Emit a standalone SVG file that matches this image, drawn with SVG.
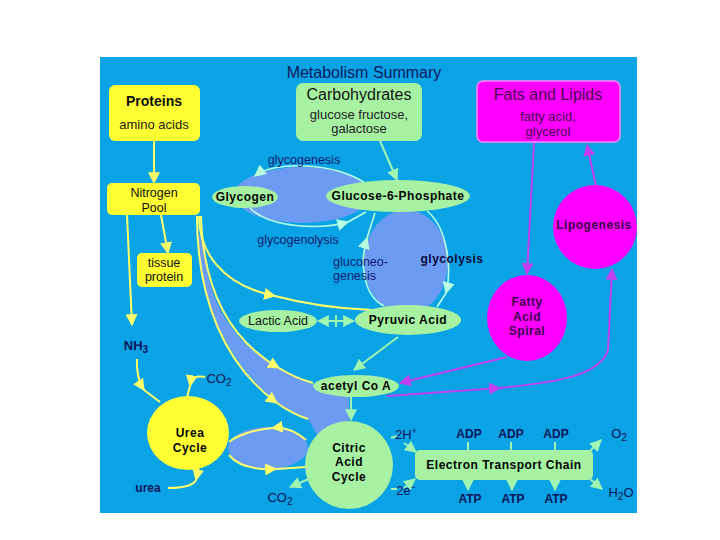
<svg xmlns="http://www.w3.org/2000/svg" width="720" height="540" viewBox="0 0 720 540">
<style>
text{font-family:"Liberation Sans",Arial,sans-serif;text-anchor:middle}
.t{fill:#0b1a5c;font-size:16px}
.h{font-size:16px;fill:#151515}
.hp{font-size:16px;fill:#4a0a50}
.s{font-size:13px;fill:#222}
.sp{font-size:13px;fill:#4a0a50}
.b{font-weight:bold;font-size:12px;letter-spacing:0.5px;fill:#050505}
.bp{font-weight:bold;font-size:12px;letter-spacing:0.5px;fill:#3a0648}
.r{font-size:12.5px;fill:#111a70}
.k{font-size:12.5px;fill:#111}
.n{font-weight:bold;font-size:12px;fill:#0b1458}
.yl{fill:#ffff33}
.gn{fill:#a6f2a2}
.mg{fill:#ff00ff}
.lav{fill:#6c9cf2}
.cy{fill:none;stroke:#ffff6a;stroke-width:2}
.cg{fill:none;stroke:#a0f5b0;stroke-width:2}
.cm{fill:none;stroke:#c040f0;stroke-width:2}
.co{fill:none;stroke:#b8ffe0;stroke-width:1.6}
</style>
<defs>
<marker id="ay" viewBox="0 0 10 10" refX="9" refY="5" markerWidth="12" markerHeight="12" markerUnits="userSpaceOnUse" orient="auto"><path d="M0,0L10,5L0,10z" fill="#ffff6a"/></marker>
<marker id="ag" viewBox="0 0 10 10" refX="9" refY="5" markerWidth="12" markerHeight="12" markerUnits="userSpaceOnUse" orient="auto-start-reverse"><path d="M0,0L10,5L0,10z" fill="#a0f5b0"/></marker>
<marker id="ac" viewBox="0 0 10 10" refX="9" refY="5" markerWidth="12" markerHeight="12" markerUnits="userSpaceOnUse" orient="auto"><path d="M0,0L10,5L0,10z" fill="#b8ffe0"/></marker>
<marker id="am" viewBox="0 0 10 10" refX="9" refY="5" markerWidth="12" markerHeight="12" markerUnits="userSpaceOnUse" orient="auto"><path d="M0,0L10,5L0,10z" fill="#c040f0"/></marker>
</defs>
<rect x="0" y="0" width="720" height="540" fill="#ffffff"/>
<rect x="100" y="57" width="537" height="456" fill="#0aa3e6"/>
<text x="364" y="78" class="t">Metabolism Summary</text>

<!-- cycle areas -->
<ellipse cx="302" cy="195" rx="68" ry="28" class="lav"/>
<ellipse cx="406" cy="262" rx="42" ry="52" class="lav"/>
<ellipse cx="268" cy="448" rx="40" ry="21" class="lav"/>
<path d="M198,235 C199,300 228,362 277,403 Q292,414 308,419 L320,440 L349,440 L349,396 L312,384 Q295,378 279,368 C230,340 205,300 203,235 Z" class="lav"/>

<g id="connectors">
<path d="M154,141 L154,183" class="cy" marker-end="url(#ay)"/>
<path d="M127,215 L132,325" class="cy" marker-end="url(#ay)"/>
<path d="M161,215 L168,253" class="cy" marker-end="url(#ay)"/>
<path d="M199,216 C199,250 220,285 275,296" class="cy" marker-end="url(#ay)"/>
<path d="M275,296 Q320,308 372,310" class="cy"/>
<path d="M201,216 C203,290 230,340 279,368" class="cy" marker-end="url(#ay)"/>
<path d="M279,368 Q295,378 313,383" class="cy"/>
<path d="M197,216 C197,300 225,365 277,403" class="cy" marker-end="url(#ay)"/>
<path d="M277,403 Q292,414 308,419" class="cy"/>
<path d="M137,359 Q136,378 144,390" class="cy" marker-end="url(#ay)"/>
<path d="M144,390 L160,402" class="cy"/>
<path d="M205,377 Q192,374 190,386" class="cy" marker-end="url(#ay)"/>
<path d="M190,386 L187,397" class="cy"/>
<path d="M199,466 L196,480" class="cy" marker-end="url(#ay)"/>
<path d="M196,480 Q192,488 168,488" class="cy"/>
<path d="M306,440 Q290,426 272,428" class="cy" marker-end="url(#ay)"/>
<path d="M272,428 C252,430 236,436 229,442" class="cy"/>
<path d="M229,455 C238,466 255,470 276,469" class="cy" marker-end="url(#ay)"/>
<path d="M276,469 L306,467" class="cy"/>

<path d="M380,141 L397,180" class="cg" marker-end="url(#ag)"/>
<path d="M365,183 C335,163 275,160 255,176" class="co" marker-end="url(#ac)"/>
<path d="M250,208 C270,228 320,230 348,222" class="co" marker-end="url(#ac)"/>
<path d="M348,222 L366,212" class="co"/>
<path d="M384,306 C362,295 360,260 367,238" class="co" marker-end="url(#ac)"/>
<path d="M367,238 L375,213" class="co"/>
<path d="M427,211 C448,228 452,270 446,293" class="co" marker-end="url(#ac)"/>
<path d="M446,293 L437,307" class="co"/>
<path d="M318,321 L354,321" class="cg" marker-start="url(#ag)" marker-end="url(#ag)"/>
<path d="M336,315 L336,327" class="cg"/>
<path d="M398,337 L354,370" class="cg" marker-end="url(#ag)"/>
<path d="M351,397 L351,420" class="cg" marker-end="url(#ag)"/>
<path d="M391,438 L397,436" class="cg"/>
<path d="M404,443 L416,452" class="cg" marker-end="url(#ag)"/>
<path d="M391,489 L397,489" class="cg"/>
<path d="M404,488 L415,479" class="cg" marker-end="url(#ag)"/>
<path d="M311,478 L290,487" class="cg" marker-end="url(#ag)"/>
<path d="M468,442 L468,450 M511,442 L511,450 M555,442 L555,450" class="cg"/>
<path d="M468,480 L468,490" class="cg" marker-end="url(#ag)"/>
<path d="M512,480 L512,490" class="cg" marker-end="url(#ag)"/>
<path d="M555,480 L555,490" class="cg" marker-end="url(#ag)"/>
<path d="M590,451 L601,440" class="cg" marker-end="url(#ag)"/>
<path d="M590,479 L602,489" class="cg" marker-end="url(#ag)"/>

<path d="M534,142 L527,274" class="cm" marker-end="url(#am)"/>
<path d="M596,186 L587,145" class="cm" marker-end="url(#am)"/>
<path d="M507,357 L400,383" class="cm" marker-end="url(#am)"/>
<path d="M387,396 Q440,392 500,388" class="cm" marker-end="url(#am)"/>
<path d="M500,388 C560,382 600,375 608,350 L612,269" class="cm" marker-end="url(#am)"/>
</g>

<g id="proteins">
<rect x="109" y="85" width="91" height="56" rx="6" class="yl"/>
<text x="154" y="106" style="font-weight:bold;font-size:14px;fill:#111">Proteins</text>
<text x="154" y="129" class="s">amino acids</text>
</g>
<g id="carbohydrates">
<rect x="296" y="83" width="126" height="58" rx="7" class="gn"/>
<text x="359" y="100" class="h">Carbohydrates</text>
<text x="359" y="119" class="s">glucose fructose,</text>
<text x="359" y="133" class="s">galactose</text>
</g>
<g id="fats">
<rect x="477" y="81" width="143" height="61" rx="6" class="mg" stroke="#ff88ff" stroke-width="1.5"/>
<text x="548" y="100" class="hp">Fats and Lipids</text>
<text x="548" y="121" class="sp">fatty acid,</text>
<text x="548" y="136" class="sp">glycerol</text>
</g>
<g id="nitrogen-pool">
<rect x="107" y="183" width="93" height="32" rx="5" class="yl"/>
<text x="154" y="197" class="k">Nitrogen</text>
<text x="154" y="212" class="k">Pool</text>
</g>
<g id="tissue-protein">
<rect x="137" y="253" width="55" height="34" rx="5" class="yl"/>
<text x="164" y="267" class="k">tissue</text>
<text x="164" y="281" class="k">protein</text>
</g>
<g id="glycogen">
<ellipse cx="245" cy="197" rx="33" ry="11" class="gn"/>
<text x="245" y="201" class="b">Glycogen</text>
</g>
<g id="g6p">
<ellipse cx="398" cy="196" rx="72" ry="16" class="gn"/>
<text x="398" y="200" class="b">Glucose-6-Phosphate</text>
</g>
<g id="labels-carb">
<text x="304" y="164" class="r">glycogenesis</text>
<text x="298" y="244" class="r">glycogenolysis</text>
<text x="333" y="266" class="r" style="text-anchor:start">gluconeo-</text>
<text x="333" y="280" class="r" style="text-anchor:start">genesis</text>
<text x="452" y="263" class="b" style="fill:#0a0a3a">glycolysis</text>
</g>
<g id="lactic-acid">
<ellipse cx="278" cy="321" rx="39" ry="11" class="gn"/>
<text x="278" y="325" class="k">Lactic Acid</text>
</g>
<g id="pyruvic-acid">
<ellipse cx="408" cy="320" rx="53" ry="15" class="gn"/>
<text x="408" y="324" class="b">Pyruvic Acid</text>
</g>
<g id="acetyl-coa">
<ellipse cx="356" cy="386" rx="43" ry="11" class="gn"/>
<text x="356" y="390" class="b">acetyl Co A</text>
</g>
<g id="citric-acid-cycle">
<circle cx="349" cy="465" r="44" class="gn"/>
<text x="349" y="452" class="b">Citric</text>
<text x="349" y="466" class="b">Acid</text>
<text x="349" y="481" class="b">Cycle</text>
</g>
<g id="urea-cycle">
<ellipse cx="188" cy="433" rx="41" ry="37" class="yl"/>
<text x="190" y="437" class="b">Urea</text>
<text x="190" y="452" class="b">Cycle</text>
</g>
<g id="nh3"><text x="136" y="350" class="n" style="font-size:13px">NH<tspan font-size="10" dy="3">3</tspan></text></g>
<g id="co2-a"><text x="219" y="383" class="n" style="font-weight:normal;font-size:13px">CO<tspan font-size="10" dy="3">2</tspan></text></g>
<g id="urea"><text x="148" y="492" class="n">urea</text></g>
<g id="co2-b"><text x="280" y="502" class="n" style="font-weight:normal;font-size:13px">CO<tspan font-size="10" dy="3">2</tspan></text></g>
<g id="h-plus"><text x="406" y="439" class="n" style="font-weight:normal;font-size:13px">2H<tspan font-size="9" dy="-5">+</tspan></text></g>
<g id="e-minus"><text x="406" y="495" class="n" style="font-weight:normal;font-size:13px">2e<tspan font-size="9" dy="-5">−</tspan></text></g>
<g id="etc">
<rect x="415" y="450" width="178" height="30" rx="5" class="gn"/>
<text x="504" y="469" class="b">Electron Transport Chain</text>
</g>
<g id="adp">
<text x="469" y="438" class="n">ADP</text>
<text x="511" y="438" class="n">ADP</text>
<text x="556" y="438" class="n">ADP</text>
</g>
<g id="atp">
<text x="470" y="503" class="n">ATP</text>
<text x="513" y="503" class="n">ATP</text>
<text x="556" y="503" class="n">ATP</text>
</g>
<g id="o2"><text x="619" y="438" class="n" style="font-weight:normal;font-size:13px">O<tspan font-size="10" dy="3">2</tspan></text></g>
<g id="h2o"><text x="621" y="497" class="n" style="font-weight:normal;font-size:13px">H<tspan font-size="10" dy="3">2</tspan><tspan dy="-3">O</tspan></text></g>
<g id="fatty-acid-spiral">
<ellipse cx="527" cy="318" rx="40" ry="43" class="mg"/>
<text x="527" y="306" class="bp">Fatty</text>
<text x="527" y="321" class="bp">Acid</text>
<text x="527" y="335" class="bp">Spiral</text>
</g>
<g id="lipogenesis">
<circle cx="595" cy="227" r="42" class="mg"/>
<text x="594" y="229" class="bp">Lipogenesis</text>
</g>
</svg>
